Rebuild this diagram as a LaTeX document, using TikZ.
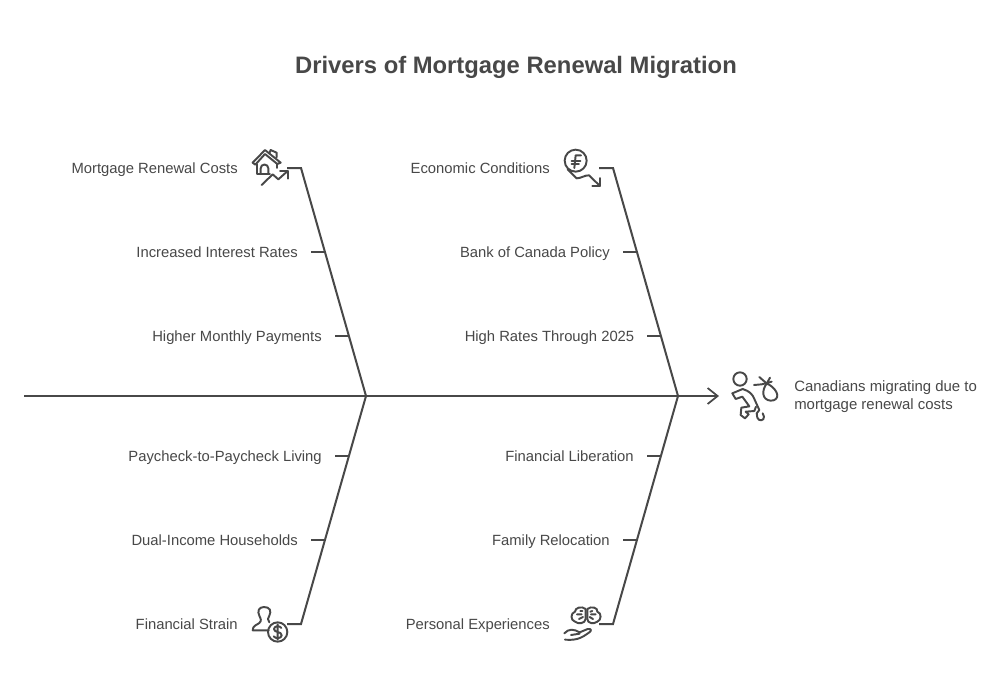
\documentclass[tikz,border=0pt]{standalone}
\usepackage{fontspec}
\setmainfont{Liberation Sans}
\usetikzlibrary{arrows.meta}
\definecolor{ink}{HTML}{484848}
\tikzset{
  x=0.75pt,y=-0.75pt,
  bone/.style={draw=ink,line width=1.5pt,line join=miter},
  tick/.style={draw=ink,line width=1.2pt},
  icon/.style={draw=ink,line width=1.45pt,line cap=round,line join=round,fill=none},
  lab/.style={text=ink,font=\fontsize{11.1pt}{13pt}\selectfont,inner sep=0pt,anchor=east,text height=11pt,text depth=2.4pt},
  title/.style={text=ink,font=\bfseries\fontsize{17.85pt}{22pt}\selectfont,inner sep=0pt,text height=16.8pt,text depth=3.8pt},
}
\begin{document}
\begin{tikzpicture}
\useasboundingbox (0,0) rectangle (1008,690);
\fill[white] (0,0) rectangle (1008,690);
\node[title] (ttl) at (516,65) {Drivers of Mortgage Renewal Migration};
% spine
\coordinate (tail) at (24,396);
\coordinate (head) at (719,396);
\coordinate (j1) at (366,396);
\coordinate (j2) at (678,396);
\draw[bone,-{Straight Barb[length=7.5pt,width=12pt,line width=1.3pt]}] (tail) -- (head);
% bones
\coordinate (a1) at (301,168); \coordinate (a0) at (287,168);
\coordinate (b1) at (613,168); \coordinate (b0) at (599,168);
\coordinate (c1) at (301,624); \coordinate (c0) at (287,624);
\coordinate (d1) at (613,624); \coordinate (d0) at (599,624);
\draw[bone] (a0) -- (a1) -- (j1) -- (c1) -- (c0);
\draw[bone] (b0) -- (b1) -- (j2) -- (d1) -- (d0);
% labels
\node[lab] (l1) at (238,168) {Mortgage Renewal Costs};
\node[lab] (l2) at (298,252) {Increased Interest Rates};
\node[lab] (l3) at (322,336) {Higher Monthly Payments};
\node[lab] (l4) at (322,456) {Paycheck-to-Paycheck Living};
\node[lab] (l5) at (298,540) {Dual-Income Households};
\node[lab] (l6) at (238,624) {Financial Strain};
\node[lab] (r1) at (550,168) {Economic Conditions};
\node[lab] (r2) at (610,252) {Bank of Canada Policy};
\node[lab] (r3) at (634.5,336) {High Rates Through 2025};
\node[lab] (r4) at (634,456) {Financial Liberation};
\node[lab] (r5) at (610,540) {Family Relocation};
\node[lab] (r6) at (550,624) {Personal Experiences};
\node[text=ink,font=\fontsize{11.2pt}{13.5pt}\selectfont,inner sep=0pt,anchor=west,align=left] (eff) at (794,397) {Canadians migrating due to\\mortgage renewal costs};
% ticks
\foreach \n/\x/\y in {l2/311/252,l3/335/336,l4/335/456,l5/311/540,r2/623/252,r3/647/336,r4/647/456,r5/623/540}{
  \coordinate (t\n) at (\x,\y);
  \draw[tick] (t\n) -- ++(14,0);
}
% house icon (zoom coordinates)
\begin{scope}[shift={(240,140)},scale=1/3]
\draw[icon] (38,68) -- (75,30) -- (122,68) -- (112,72) -- (75,42) -- (46,74) -- cycle;
\draw[icon] (50,72) -- (50,102) -- (90,102);
\draw[icon] (88,40) -- (92,30) -- (110,38) -- (110,52);
\draw[icon] (110,72) -- (110,84);
\draw[icon] (62,102) -- (62,85) arc[start angle=180,end angle=360,x radius=11.5,y radius=11.5] -- (85,102);
\draw[icon] (65,135) -- (98,103) -- (115,118) -- (143,93);
\draw[icon] (120,92) -- (143,92) -- (143,116);
\end{scope}
% economic icon
\begin{scope}[shift={(555,140)},scale=1/3]
\draw[icon] (62,62) circle[radius=33];
\draw[icon] (78,46) -- (62,46) -- (58,84);
\draw[icon] (50,62) -- (76,62) (50,72) -- (72,72);
\draw[icon] (38,88) -- (65,115) .. controls (78,115) and (90,105) .. (102,106) -- (135,138);
\draw[icon] (135,114) -- (135,138) -- (112,138);
\end{scope}
% strain icon
\begin{scope}[shift={(240,595)},scale=1/3]
\draw[icon] (72,36) .. controls (55,36) and (52,50) .. (58,62) .. controls (62,72) and (66,76) .. (58,84) .. controls (50,90) and (38,92) .. (38,106) -- (86,106);
\draw[icon] (72,36) .. controls (90,36) and (95,48) .. (88,62) .. controls (83,70) and (82,74) .. (88,82);
\draw[icon] (113,111) circle[radius=29];
\draw[icon] (124,99) .. controls (120,91) and (102,92) .. (102,102) .. controls (102,114) and (125,108) .. (125,121) .. controls (125,131) and (106,132) .. (101,124) (113,88) -- (113,134);
\end{scope}
% brain + hand icon
\begin{scope}[shift={(555,595)},scale=1/3]
\draw[icon] (92,42) .. controls (80,32) and (60,38) .. (60,50) .. controls (46,54) and (46,76) .. (60,80) .. controls (70,88) and (90,86) .. (92,72) -- (92,42);
\draw[icon] (97,42) .. controls (108,32) and (130,38) .. (127,50) .. controls (141,54) and (139,76) .. (127,80) .. controls (116,88) and (98,86) .. (97,72) -- (97,42);
\draw[icon] (66,58) -- (80,58) (76,48) -- (82,48) (72,72) -- (84,66);
\draw[icon] (122,58) -- (108,58) (112,48) -- (106,50) (114,72) -- (104,66);
\draw[icon] (28,115) .. controls (42,100) and (56,102) .. (74,112) -- (98,102) .. controls (110,100) and (110,108) .. (103,112) .. controls (88,122) and (72,138) .. (30,134);
\draw[icon] (48,120) -- (74,116);
\end{scope}
% runner icon
\begin{scope}[shift={(700,365)},scale=1/3]
\draw[icon] (120,42) circle[radius=20];
\draw[icon] (128,72) -- (97,85) -- (107,102) -- (127,95) -- (148,124) -- (124,128) -- (122,150) -- (135,160) -- (146,148) -- (137,140) -- (163,138) -- (168,125);
\draw[icon] (128,72) .. controls (148,78) and (158,88) .. (163,102) -- (178,135) -- (170,145) -- (172,158) .. controls (176,170) and (193,168) .. (192,155) -- (188,145);
\draw[icon] (162,60) -- (185,58) -- (215,50);
\draw[icon] (178,36) -- (203,58);
\draw[icon] (210,38) -- (200,56) .. controls (185,75) and (185,105) .. (212,107) .. controls (240,107) and (240,78) .. (203,56);
\end{scope}
\end{tikzpicture}
\end{document}
